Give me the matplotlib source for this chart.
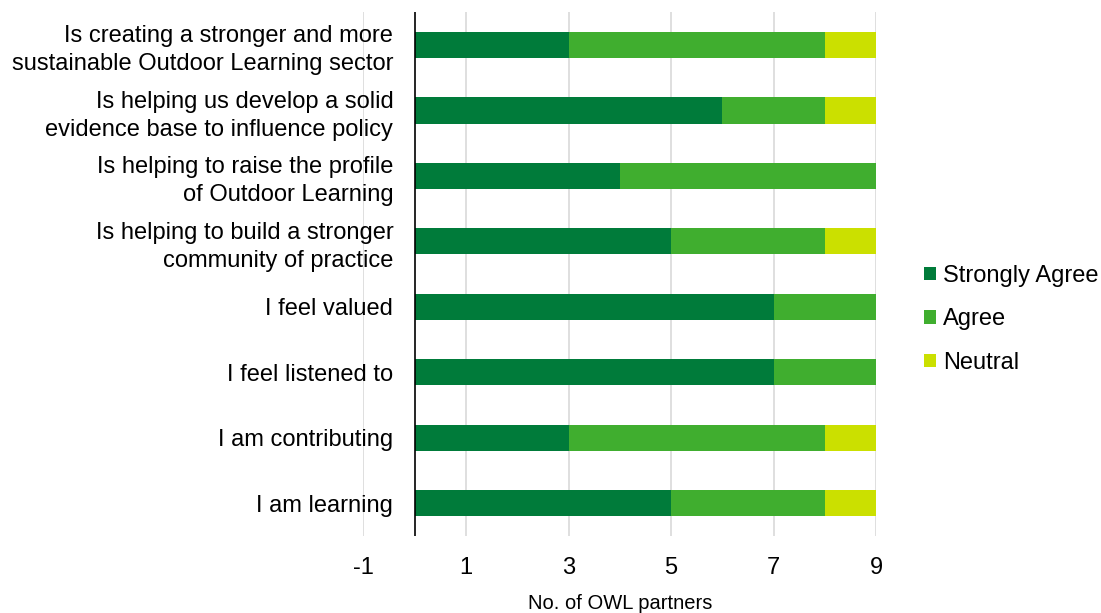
import matplotlib
matplotlib.use("Agg")
import matplotlib.pyplot as plt
import numpy as np

plt.rcParams['font.family'] = ['Liberation Sans', 'DejaVu Sans']

categories = [
    "Is creating a stronger and more\nsustainable Outdoor Learning sector",
    "Is helping us develop a solid\nevidence base to influence policy",
    "Is helping to raise the profile\nof Outdoor Learning",
    "Is helping to build a stronger\ncommunity of practice",
    "I feel valued",
    "I feel listened to",
    "I am contributing",
    "I am learning",
]
strongly_agree = [3, 6, 4, 5, 7, 7, 3, 5]
agree = [5, 2, 5, 3, 2, 2, 5, 3]
neutral = [1, 1, 0, 1, 0, 0, 1, 1]
series_names = ["Strongly Agree", "Agree", "Neutral"]
colors = ["#007B3A", "#40AE2F", "#CBE000"]
x_ticks = [-1, 1, 3, 5, 7, 9]

fig = plt.figure(figsize=(11.01, 6.13), dpi=100)
ax = fig.add_axes([0.330, 0.126, 0.466, 0.854])

y = np.arange(len(categories))
left = np.zeros(len(categories))
for vals, name, c in zip([strongly_agree, agree, neutral], series_names, colors):
    vals = np.array(vals, dtype=float)
    ax.barh(y, vals, left=left, height=0.4, color=c, label=name, zorder=3)
    left += vals

ax.set_xlim(-1, 9)
ax.set_ylim(len(categories) - 0.5, -0.5)
ax.set_xticks(x_ticks)
ax.set_xticklabels([str(t) for t in x_ticks], fontsize=17)
ax.set_yticks(y)
ax.set_yticklabels(categories, fontsize=17, ha='right', linespacing=1.35)
ax.tick_params(axis='y', length=0, pad=-21.6)
ax.tick_params(axis='x', length=0, pad=15)
for lab in ax.get_yticklabels():
    lab.set_x(0)

ax.grid(axis='x', color='#d9d9d9', linewidth=1.2, zorder=0)
ax.set_axisbelow(True)
for s in ['top', 'right', 'bottom', 'left']:
    ax.spines[s].set_visible(False)
ax.axvline(0, color='black', linewidth=1.2, zorder=4)

ax.set_xlabel("No. of OWL partners", fontsize=14.5, labelpad=11)

fig.legend(loc='center left', bbox_to_anchor=(0.831, 0.479), frameon=False,
           fontsize=17, handlelength=0.5, handleheight=0.5, handletextpad=0.3,
           labelspacing=0.9, borderaxespad=0)

fig.savefig("out.png", dpi=100)
